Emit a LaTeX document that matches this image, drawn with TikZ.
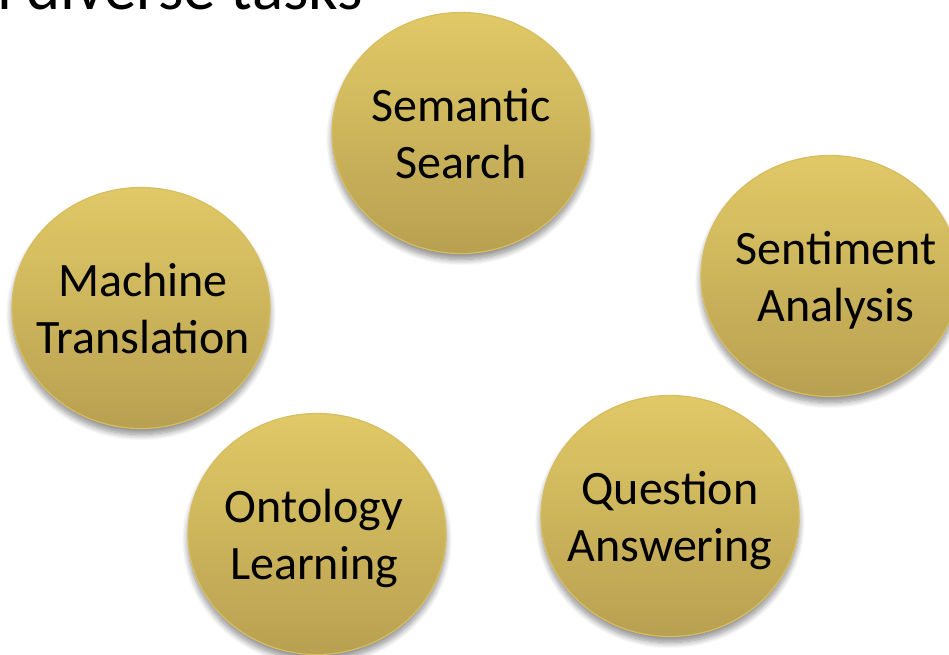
\documentclass[tikz,border=0pt]{standalone}
\usepackage{fontspec}
\setmainfont{Carlito}
\usepackage{tikz}
\usetikzlibrary{shapes.geometric,shadows.blur}

\definecolor{bubbletop}{HTML}{E1C967}
\definecolor{bubblebot}{HTML}{B8A051}
\definecolor{bubblerim}{HTML}{D6BD60}

\begin{document}
\begin{tikzpicture}[x=1pt,y=-1pt,
  bubble/.style={draw=bubblerim,line width=1.2pt,ellipse,inner sep=0pt,
    minimum width=258pt,minimum height=241pt,
    top color=bubbletop,bottom color=bubblebot,
    blur shadow={shadow xshift=0pt,shadow yshift=-6pt,shadow blur steps=10,
      shadow blur radius=6pt,shadow opacity=45}},
  tasklabel/.style={align=center,inner sep=0pt,text depth=0pt,
    font=\fontsize{48}{57}\selectfont}]
 \useasboundingbox (0,0) rectangle (949,654);

 % heading, only its lower edge shows
 \node[anchor=base west,inner sep=0pt,font=\fontsize{65}{72}\selectfont]
  (heading) at (-3,9) {l diverse tasks};

 \node[bubble] (semantic) at (461,133) {};
 \node[bubble] (machine) at (141,308) {};
 \node[bubble] (sentiment) at (830,276) {};
 \node[bubble] (ontology) at (317,534) {};
 \node[bubble] (question) at (670,516) {};

 \node[tasklabel] (semantic_text) at (semantic) {Semantic\\Search};
 \node[tasklabel] (machine_text) at ([xshift=2pt]machine) {Machine\\Translation};
 \node[tasklabel] (sentiment_text) at ([xshift=6pt]sentiment) {Sentiment\\Analysis};
 \node[tasklabel] (ontology_text) at ([xshift=-3pt]ontology) {Ontology\\Learning};
 \node[tasklabel] (question_text) at (question) {Question\\Answering};
\end{tikzpicture}
\end{document}
